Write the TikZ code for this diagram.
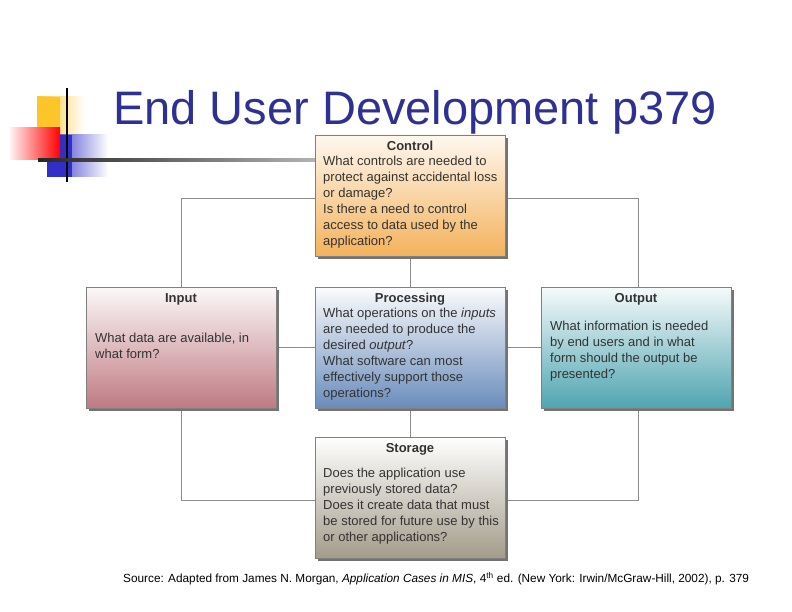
\documentclass[tikz,border=0pt]{standalone}
\usepackage{fontspec}
\setmainfont{Liberation Sans}
\begin{document}
\begin{tikzpicture}[x=1pt,y=-1pt,
  conn/.style={draw=black!45,line width=0.8pt},
  txt/.style={anchor=north west,align=left,font=\fontsize{13}{16}\selectfont,text=black!80,inner sep=0pt},
  hd/.style={anchor=north,font=\bfseries\fontsize{13}{16}\selectfont,text=black!80,inner sep=0pt}]
\useasboundingbox (0,0) rectangle (792,612);
\clip (0,0) rectangle (792,612);
\definecolor{titleblue}{HTML}{2E3192}
\definecolor{lgold}{HTML}{FCC52A}
\definecolor{lblue}{HTML}{3030C8}
\definecolor{cctrl}{HTML}{F4B25C}
\definecolor{cinp}{HTML}{BF7A82}
\definecolor{cproc}{HTML}{6A8CBC}
\definecolor{coutp}{HTML}{4FA4B0}
\definecolor{cstor}{HTML}{A39C8A}
% logo
\shade[left color=lgold,right color=white] (37,97) rectangle (85,135);
\fill[lgold] (37,97) rectangle (60,135);
\shade[left color=lblue,right color=white] (47,135) rectangle (108,177);
\fill[lblue] (47,135) rectangle (72,177);
\shade[left color=red!5,right color=red] (10,128) rectangle (60,160);
\draw[black,line width=1.5pt] (67,88) -- (67,182);
\shade[left color=black!85,right color=black!30] (38,159) rectangle (315,161.5);
% title
\node[anchor=west,inner sep=0pt,text=titleblue,font=\fontsize{47}{50}\selectfont] (title) at (113,112) {End User Development p379};
% connectors
\coordinate (tl) at (181,198); \coordinate (br) at (638,500);
\coordinate (ml) at (181,347); \coordinate (mr) at (638,347);
\draw[conn] (tl) rectangle (br);
\draw[conn] (ml) -- (mr);
\draw[conn] (410,198) -- (410,500);
% boxes
\newcommand{\ubox}[6]{%
 \fill[black!55] (#1+3,#2+3) rectangle (#1+193,#2+124);
 \shade[top color=#5,bottom color=#6] (#1,#2) rectangle (#1+190,#2+121);
 \draw[black!50,line width=0.5pt] (#1,#2) rectangle (#1+190,#2+121);
 \node[draw=none,inner sep=0pt,minimum width=190pt,minimum height=121pt,anchor=north west] (#3) at (#1,#2) {};
 \node[hd] (#3h) at (#1+95,#2+6) {#4};}
\ubox{315}{135}{ctrl}{Control}{cctrl!10}{cctrl}
\ubox{86}{287}{inp}{Input}{cinp!5}{cinp}
\ubox{315}{287}{proc}{Processing}{cproc!3}{cproc}
\ubox{541}{287}{outp}{Output}{coutp!5}{coutp}
\ubox{315}{437}{stor}{Storage}{white}{cstor}
\node[txt] (ctrlt) at (323,156) {What controls are needed to\\protect against accidental loss\\or damage?\\Is there a need to control\\access to data used by the\\application?};
\node[txt] (inpt) at (95,333) {What data are available, in\\what form?};
\node[txt] (proct) at (323,308) {What operations on the \textit{inputs}\\are needed to produce the\\desired \textit{output}?\\What software can most\\effectively support those\\operations?};
\node[txt] (outpt) at (550,321) {What information is needed\\by end users and in what\\form should the output be\\presented?};
\node[txt] (stort) at (323,468) {Does the application use\\previously stored data?\\Does it create data that must\\be stored for future use by this\\or other applications?};
\node[anchor=west,inner sep=0pt,font=\fontsize{11.8}{13}\selectfont] (src) at (123,579) {Source: Adapted from James N. Morgan, \textit{Application Cases in MIS}, 4\textsuperscript{th} ed. (New York: Irwin/McGraw-Hill, 2002), p. 379};
\end{tikzpicture}
\end{document}
